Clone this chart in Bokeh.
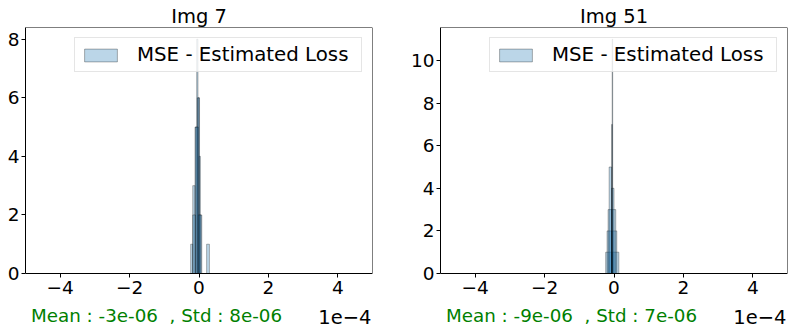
from bokeh.plotting import figure
from bokeh.models import (ColumnDataSource, Range1d, FixedTicker, Label,
                          Legend, LegendItem, LinearAxis)
from bokeh.layouts import row
from bokeh.embed import file_html
from bokeh.resources import INLINE

FONT = "DejaVu Sans"

# ---------------- data (x in units of 1e-4) ----------------
titles = ["Img 7", "Img 51"]
stats_text = ["Mean : -3e-06\u00a0 , Std : 8e-06", "Mean : -9e-06\u00a0 , Std : 7e-06"]
legend_label = "MSE - Estimated Loss"
offset_text = "1e\u22124"
x_min, x_max = -5, 5
x_ticks = [-4, -2, 0, 2, 4]
x_tick_labels = ["\u22124", "\u22122", "0", "2", "4"]
y_ticks_img7 = [0, 2, 4, 6, 8]
y_ticks_img51 = [0, 2, 4, 6, 8, 10]
y_max_img7 = 8.4
y_max_img51 = 11.55

# Img 7 : overlapping histograms (bin edges, counts)
img7_edges_a = [-0.24, -0.18, -0.115, -0.05, 0.015, 0.08]
img7_counts_a = [1, 3, 5, 6, 2]
img7_edges_b = [-0.066, -0.03, 0.005, 0.04]
img7_counts_b = [8, 6, 4]
img7_edges_c = [-0.18, -0.10, -0.02, 0.06, 0.14, 0.22, 0.30]
img7_counts_c = [2, 5, 2, 0, 0, 1]

# Img 51 : overlapping histograms (bin edges, counts)
img51_edges_a = [-0.24, -0.05, 0.14]
img51_counts_a = [1, 1]
img51_edges_b = [-0.20, -0.06, 0.08]
img51_counts_b = [2, 2]
img51_edges_c = [-0.17, -0.06, 0.05]
img51_counts_c = [3, 3]
img51_edges_d = [-0.14, -0.07, 0.0]
img51_counts_d = [5, 4]
img51_edges_e = [-0.066, -0.052, -0.038]
img51_counts_e = [7, 11]

FILL = "#1f77b4"
FIG_H = 328
TOP_B = 27          # frame top (page px)
AXES_H = 246        # height of the 0..y_max box in px
BOT_B = 1           # frame continues below y=0 to hold the x tick labels and notes
FRAME_H = FIG_H - TOP_B - BOT_B
BELOW_PX = FRAME_H - AXES_H


def make_panel(title, stats, series, y_ticks, y_max, width, border_left, border_right):
    y_min = -BELOW_PX * y_max / AXES_H
    p = figure(width=width, height=FIG_H, output_backend="svg", toolbar_location=None,
               x_range=Range1d(x_min, x_max), y_range=Range1d(y_min, y_max),
               min_border_left=border_left, min_border_right=border_right,
               min_border_top=TOP_B, min_border_bottom=BOT_B, title=title)
    p.title.align = "center"
    p.title.text_font = FONT
    p.title.text_font_size = "19.5px"
    p.title.text_font_style = "normal"
    p.title.text_color = "black"
    p.title.standoff = 0
    p.grid.visible = False
    p.outline_line_color = None
    p.background_fill_color = "white"
    p.border_fill_color = "white"

    renderers = []
    for edges, counts in series:
        src = ColumnDataSource(dict(left=edges[:-1], right=edges[1:], top=counts,
                                    bottom=[0] * len(counts)))
        r = p.quad(left="left", right="right", top="top", bottom="bottom", source=src,
                   fill_color=FILL, fill_alpha=0.3, line_color="black",
                   line_alpha=0.3, line_width=1)
        renderers.append(r)

    xa = p.xaxis[0]
    ya = p.yaxis[0]
    for ax in (xa, ya):
        ax.axis_line_color = "black"
        ax.major_tick_line_color = "black"
        ax.minor_tick_line_color = None
        ax.major_tick_in = 0
        ax.major_tick_out = 4
        ax.major_label_text_font = FONT
        ax.major_label_text_font_size = "18.5px"
        ax.major_label_text_color = "black"
    xa.fixed_location = 0
    xa.ticker = FixedTicker(ticks=x_ticks)
    xa.major_label_overrides = {t: l for t, l in zip(x_ticks, x_tick_labels)}
    xa.major_label_standoff = 3
    ya.bounds = (0, y_max)
    ya.ticker = FixedTicker(ticks=y_ticks)
    ya.major_label_standoff = 2

    # top and right spines of the 0..y_max box
    top = LinearAxis(fixed_location=y_max, ticker=FixedTicker(ticks=[]),
                     axis_line_color="black", major_tick_line_color=None,
                     minor_tick_line_color=None, major_label_text_font_size="0px")
    p.add_layout(top, "above")
    right = LinearAxis(fixed_location=x_max, bounds=(0, y_max),
                       ticker=FixedTicker(ticks=[]),
                       axis_line_color="black", major_tick_line_color=None,
                       minor_tick_line_color=None, major_label_text_font_size="0px")
    p.add_layout(right, "right")

    legend = Legend(items=[LegendItem(label=legend_label, renderers=[renderers[0]])],
                    location="top_right", margin=10, padding=5,
                    glyph_width=41, glyph_height=16, label_standoff=16, label_width=219,
                    label_text_font=FONT, label_text_font_size="19.8px",
                    label_text_color="black",
                    border_line_color="#cccccc", border_line_width=1,
                    background_fill_color="white", background_fill_alpha=0.8)
    p.add_layout(legend)

    frame_bottom = TOP_B + FRAME_H
    p.add_layout(Label(x=5.5, y=frame_bottom - 315, x_units="screen", y_units="screen",
                       text=stats, text_align="left", text_baseline="alphabetic",
                       text_font=FONT, text_font_size="18.3px", text_color="green"))
    p.add_layout(Label(x=x_max - 1.0 / 34.7, y=frame_bottom - 316, y_units="screen",
                       text=offset_text, text_align="right", text_baseline="alphabetic",
                       text_font=FONT, text_font_size="19.5px", text_color="black"))
    return p


p1 = make_panel(titles[0], stats_text[0],
                [(img7_edges_a, img7_counts_a), (img7_edges_b, img7_counts_b),
                 (img7_edges_c, img7_counts_c)],
                y_ticks_img7, y_max_img7, 395, 25, 23)
p2 = make_panel(titles[1], stats_text[1],
                [(img51_edges_a, img51_counts_a), (img51_edges_b, img51_counts_b),
                 (img51_edges_c, img51_counts_c), (img51_edges_d, img51_counts_d),
                 (img51_edges_e, img51_counts_e)],
                y_ticks_img51, y_max_img51, 400, 45, 8)

layout = row(p1, p2)
open("out.html", "w").write(file_html(layout, INLINE))
